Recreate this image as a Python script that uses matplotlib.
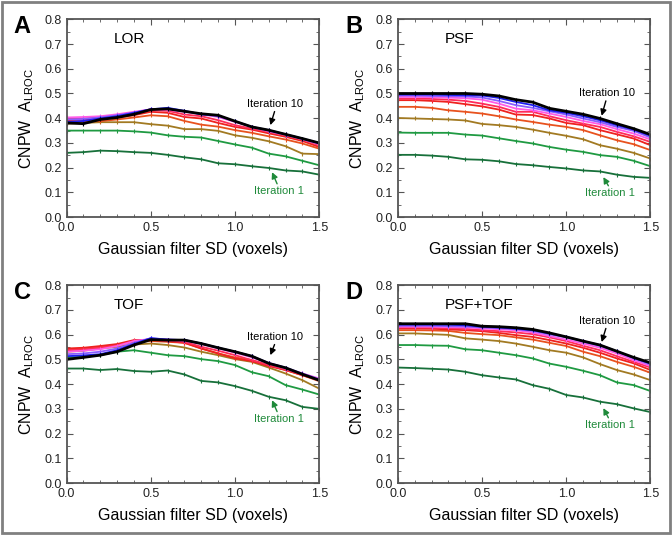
import numpy as np
import matplotlib
matplotlib.use("Agg")
import matplotlib.pyplot as plt
from matplotlib.patches import Rectangle
from matplotlib.ticker import MultipleLocator

plt.rcParams['font.family'] = ['Liberation Sans', 'DejaVu Sans']
plt.rcParams['mathtext.fontset'] = 'custom'
plt.rcParams['mathtext.rm'] = 'Liberation Sans'
plt.rcParams['mathtext.it'] = 'Liberation Sans'

# filter SD (voxels)
sd = [0.0, 0.1, 0.2, 0.3, 0.4, 0.5, 0.6, 0.7, 0.8, 0.9, 1.0, 1.1, 1.2, 1.3, 1.4, 1.5]

# CNPW A_LROC, iterations 1..10, per reconstruction
lor = [
    [0.260, 0.263, 0.269, 0.267, 0.263, 0.260, 0.252, 0.242, 0.234, 0.218, 0.214, 0.206, 0.199, 0.189, 0.185, 0.172],
    [0.350, 0.350, 0.350, 0.350, 0.347, 0.342, 0.331, 0.325, 0.322, 0.308, 0.294, 0.281, 0.257, 0.246, 0.228, 0.210],
    [0.378, 0.381, 0.384, 0.384, 0.384, 0.376, 0.370, 0.356, 0.356, 0.349, 0.331, 0.321, 0.307, 0.287, 0.257, 0.255],
    [0.385, 0.387, 0.388, 0.395, 0.403, 0.412, 0.408, 0.389, 0.374, 0.366, 0.352, 0.341, 0.327, 0.314, 0.298, 0.277],
    [0.392, 0.395, 0.397, 0.403, 0.412, 0.426, 0.422, 0.405, 0.399, 0.381, 0.365, 0.354, 0.339, 0.325, 0.308, 0.284],
    [0.397, 0.399, 0.403, 0.408, 0.419, 0.432, 0.430, 0.415, 0.408, 0.392, 0.372, 0.358, 0.345, 0.330, 0.314, 0.291],
    [0.403, 0.405, 0.408, 0.416, 0.426, 0.436, 0.434, 0.426, 0.416, 0.405, 0.385, 0.365, 0.347, 0.333, 0.315, 0.295],
    [0.395, 0.397, 0.403, 0.412, 0.423, 0.436, 0.438, 0.428, 0.416, 0.408, 0.387, 0.365, 0.350, 0.334, 0.316, 0.298],
    [0.385, 0.389, 0.399, 0.408, 0.422, 0.436, 0.442, 0.430, 0.416, 0.411, 0.388, 0.365, 0.352, 0.335, 0.318, 0.300],
    [0.381, 0.378, 0.395, 0.403, 0.416, 0.435, 0.438, 0.428, 0.418, 0.412, 0.388, 0.365, 0.352, 0.335, 0.318, 0.300],
]
psf = [
    [0.252, 0.252, 0.249, 0.244, 0.234, 0.232, 0.226, 0.215, 0.210, 0.203, 0.197, 0.189, 0.185, 0.172, 0.163, 0.159],
    [0.342, 0.341, 0.341, 0.341, 0.334, 0.330, 0.319, 0.308, 0.298, 0.284, 0.273, 0.264, 0.251, 0.244, 0.228, 0.206],
    [0.401, 0.399, 0.397, 0.395, 0.391, 0.377, 0.372, 0.365, 0.354, 0.341, 0.329, 0.315, 0.291, 0.277, 0.260, 0.237],
    [0.446, 0.446, 0.442, 0.432, 0.426, 0.419, 0.408, 0.395, 0.385, 0.374, 0.365, 0.352, 0.331, 0.311, 0.295, 0.271],
    [0.473, 0.473, 0.470, 0.466, 0.457, 0.448, 0.435, 0.415, 0.413, 0.399, 0.381, 0.372, 0.352, 0.335, 0.318, 0.291],
    [0.479, 0.479, 0.478, 0.475, 0.470, 0.459, 0.446, 0.426, 0.426, 0.408, 0.392, 0.378, 0.365, 0.345, 0.327, 0.304],
    [0.486, 0.486, 0.485, 0.483, 0.481, 0.475, 0.459, 0.439, 0.432, 0.419, 0.405, 0.389, 0.376, 0.356, 0.338, 0.314],
    [0.492, 0.492, 0.490, 0.489, 0.488, 0.484, 0.470, 0.453, 0.442, 0.428, 0.415, 0.399, 0.384, 0.365, 0.349, 0.322],
    [0.496, 0.496, 0.496, 0.494, 0.493, 0.492, 0.482, 0.466, 0.453, 0.432, 0.422, 0.408, 0.392, 0.372, 0.354, 0.329],
    [0.500, 0.500, 0.500, 0.500, 0.500, 0.497, 0.490, 0.475, 0.465, 0.440, 0.428, 0.416, 0.399, 0.378, 0.358, 0.334],
]
tof = [
    [0.463, 0.463, 0.457, 0.461, 0.453, 0.450, 0.455, 0.439, 0.413, 0.407, 0.392, 0.373, 0.349, 0.335, 0.308, 0.300],
    [0.508, 0.510, 0.517, 0.531, 0.537, 0.527, 0.517, 0.513, 0.501, 0.493, 0.477, 0.448, 0.432, 0.396, 0.378, 0.358],
    [0.531, 0.535, 0.544, 0.551, 0.560, 0.564, 0.558, 0.548, 0.531, 0.517, 0.501, 0.490, 0.467, 0.443, 0.416, 0.382],
    [0.540, 0.544, 0.551, 0.558, 0.571, 0.574, 0.571, 0.567, 0.544, 0.524, 0.508, 0.497, 0.477, 0.457, 0.436, 0.412],
    [0.544, 0.547, 0.554, 0.562, 0.578, 0.578, 0.574, 0.567, 0.544, 0.524, 0.504, 0.493, 0.473, 0.457, 0.436, 0.416],
    [0.537, 0.540, 0.547, 0.556, 0.575, 0.580, 0.575, 0.571, 0.551, 0.535, 0.517, 0.497, 0.477, 0.459, 0.439, 0.419],
    [0.531, 0.535, 0.541, 0.554, 0.574, 0.583, 0.580, 0.575, 0.562, 0.544, 0.527, 0.508, 0.484, 0.463, 0.443, 0.423],
    [0.521, 0.524, 0.531, 0.544, 0.567, 0.585, 0.580, 0.578, 0.564, 0.547, 0.531, 0.513, 0.486, 0.467, 0.443, 0.420],
    [0.513, 0.516, 0.521, 0.537, 0.562, 0.586, 0.580, 0.578, 0.564, 0.547, 0.531, 0.513, 0.484, 0.466, 0.440, 0.416],
    [0.500, 0.508, 0.517, 0.531, 0.558, 0.580, 0.578, 0.578, 0.564, 0.547, 0.531, 0.513, 0.484, 0.466, 0.440, 0.416],
]
psf_tof = [
    [0.467, 0.465, 0.462, 0.459, 0.450, 0.436, 0.427, 0.419, 0.396, 0.381, 0.356, 0.346, 0.329, 0.319, 0.302, 0.287],
    [0.558, 0.558, 0.556, 0.555, 0.541, 0.537, 0.527, 0.517, 0.504, 0.483, 0.470, 0.454, 0.436, 0.407, 0.396, 0.372],
    [0.605, 0.605, 0.602, 0.599, 0.585, 0.580, 0.574, 0.564, 0.551, 0.537, 0.527, 0.508, 0.481, 0.457, 0.439, 0.416],
    [0.618, 0.618, 0.617, 0.615, 0.607, 0.602, 0.598, 0.589, 0.580, 0.567, 0.554, 0.531, 0.513, 0.490, 0.470, 0.446],
    [0.625, 0.625, 0.624, 0.621, 0.618, 0.614, 0.607, 0.598, 0.591, 0.578, 0.564, 0.547, 0.527, 0.504, 0.484, 0.457],
    [0.629, 0.629, 0.628, 0.626, 0.624, 0.618, 0.614, 0.609, 0.602, 0.589, 0.574, 0.555, 0.537, 0.513, 0.490, 0.467],
    [0.632, 0.632, 0.632, 0.630, 0.629, 0.625, 0.622, 0.618, 0.609, 0.594, 0.580, 0.564, 0.547, 0.524, 0.497, 0.473],
    [0.636, 0.636, 0.636, 0.634, 0.633, 0.629, 0.626, 0.622, 0.615, 0.601, 0.589, 0.571, 0.554, 0.531, 0.504, 0.479],
    [0.641, 0.641, 0.641, 0.640, 0.638, 0.632, 0.629, 0.624, 0.618, 0.605, 0.591, 0.574, 0.558, 0.533, 0.506, 0.484],
    [0.644, 0.644, 0.644, 0.644, 0.644, 0.634, 0.632, 0.628, 0.621, 0.607, 0.591, 0.574, 0.558, 0.533, 0.508, 0.486],
]

panels = [("A", "LOR", lor), ("B", "PSF", psf), ("C", "TOF", tof), ("D", "PSF+TOF", psf_tof)]

# label placement: (iter10 text y, iter10 arrow head y, iter1 text y, iter1 arrow head y)
annot = [
    (0.457, 0.372, 0.105, 0.182),
    (0.500, 0.410, 0.097, 0.162),
    (0.590, 0.517, 0.259, 0.335),
    (0.655, 0.570, 0.234, 0.303),
]

colors = ['#17703a', '#1f9a42', '#a27a22', '#e8521e', '#ee221e', '#ff2c5a',
          '#ff5ce6', '#8a5cff', '#1e1ef0', '#000000']

fig = plt.figure(figsize=(6.72, 5.35), dpi=100)
fig.patches.append(Rectangle((0.003, 0.004), 0.994, 0.992, transform=fig.transFigure,
                             fill=False, edgecolor='#808080', lw=2))

positions = [(0.099, 0.594), (0.592, 0.594), (0.099, 0.097), (0.592, 0.097)]
green = '#1f8a3a'

for (letter, name, data), (l, b), (t10, h10, t1, h1) in zip(panels, positions, annot):
    ax = fig.add_axes([l, b, 0.376, 0.370])
    for i, ys in enumerate(data):
        lw = 2.0 if i == 9 else 1.3
        ax.plot(sd, ys, color=colors[i], lw=lw, marker='|', ms=3, mew=0.8)
    ax.set_xlim(0, 1.5)
    ax.set_ylim(0, 0.8)
    ax.xaxis.set_major_locator(MultipleLocator(0.5))
    ax.xaxis.set_minor_locator(MultipleLocator(0.1))
    ax.yaxis.set_major_locator(MultipleLocator(0.1))
    ax.yaxis.set_minor_locator(MultipleLocator(0.05))
    ax.tick_params(which='both', direction='in', top=True, right=True, labelsize=9,
                   color='#555555', labelcolor='#222222')
    ax.tick_params(which='major', length=4)
    ax.tick_params(which='minor', length=2)
    for s in ax.spines.values():
        s.set_color('#555555')
        s.set_linewidth(1.3)
    ax.set_xticks([0, 0.5, 1.0, 1.5])
    ax.set_xticklabels(['0.0', '0.5', '1.0', '1.5'])
    ax.set_xlabel('Gaussian filter SD (voxels)', fontsize=11.5, labelpad=6)
    ax.set_ylabel(r'CNPW  A$_{\mathregular{LROC}}$', fontsize=11.5, labelpad=6)
    ax.text(0.28, 0.72, name, fontsize=11, va='center', ha='left')
    ax.text(-0.175, 1.02, letter, transform=ax.transAxes, fontsize=17, fontweight='bold',
            va='top', ha='center')
    ax.annotate('', xy=(1.21, h10), xytext=(1.235, t10 - 0.03),
                arrowprops=dict(arrowstyle='-|>', color='black', lw=1, mutation_scale=9,
                                shrinkA=0, shrinkB=0))
    ax.text(1.24, t10, 'Iteration 10', fontsize=8, ha='center', va='center')
    ax.annotate('', xy=(1.22, h1), xytext=(1.25, t1 + 0.03),
                arrowprops=dict(arrowstyle='-|>', color=green, lw=1, mutation_scale=9,
                                shrinkA=0, shrinkB=0))
    ax.text(1.26, t1, 'Iteration 1', fontsize=8, ha='center', va='center', color=green)

fig.savefig('out.png', dpi=100)
